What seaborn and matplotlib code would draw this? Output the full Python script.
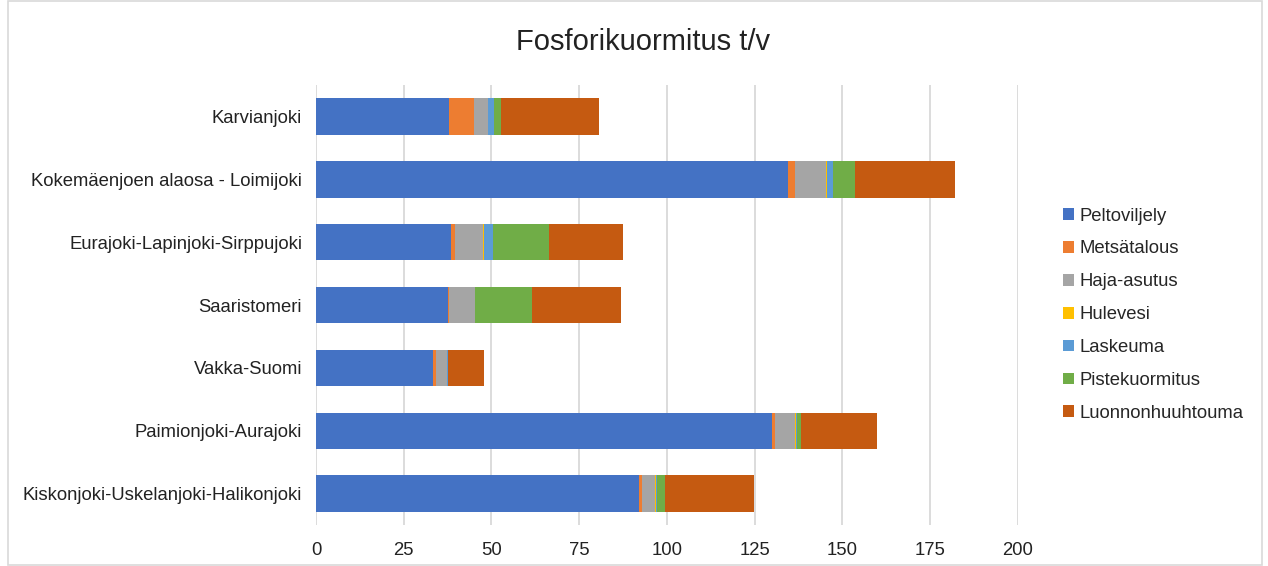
import seaborn as sns
import matplotlib.pyplot as plt
import pandas as pd
import numpy as np

areas = ['Karvianjoki', 'Kokemäenjoen alaosa - Loimijoki', 'Eurajoki-Lapinjoki-Sirppujoki',
         'Saaristomeri', 'Vakka-Suomi', 'Paimionjoki-Aurajoki',
         'Kiskonjoki-Uskelanjoki-Halikonjoki']
sources = ['Peltoviljely', 'Metsätalous', 'Haja-asutus', 'Hulevesi', 'Laskeuma',
           'Pistekuormitus', 'Luonnonhuuhtouma']

peltoviljely = [38.0, 134.4, 38.6, 37.7, 33.2, 130.0, 91.9]
metsatalous = [6.9, 2.1, 1.1, 0.2, 0.9, 0.8, 1.0]
haja_asutus = [4.1, 8.7, 8.0, 7.3, 3.2, 5.7, 3.8]
hulevesi = [0.1, 0.4, 0.2, 0.1, 0.1, 0.2, 0.2]
laskeuma = [1.6, 1.8, 2.4, 0.1, 0.1, 0.3, 0.4]
pistekuormitus = [2.0, 6.3, 16.0, 16.1, 0.1, 1.2, 2.0]
luonnonhuuhtouma = [28.0, 28.3, 21.3, 25.4, 10.4, 21.6, 25.6]

colors = ['#4472C4', '#ED7D31', '#A5A5A5', '#FFC000', '#5B9BD5', '#70AD47', '#C55A11']

df = pd.DataFrame({'Alue': areas, 'Peltoviljely': peltoviljely, 'Metsätalous': metsatalous,
                   'Haja-asutus': haja_asutus, 'Hulevesi': hulevesi, 'Laskeuma': laskeuma,
                   'Pistekuormitus': pistekuormitus, 'Luonnonhuuhtouma': luonnonhuuhtouma})
cum = df[sources].cumsum(axis=1)

sns.set_style('white')
plt.rcParams['font.family'] = ['Liberation Sans', 'DejaVu Sans']

fig = plt.figure(figsize=(12.68, 5.66), dpi=100)
ax = fig.add_axes([0.2492, 0.0724, 0.5536, 0.7774])

# stacked bars: draw cumulative totals from the last layer backwards
for src, col in reversed(list(zip(sources, colors))):
    sns.barplot(x=cum[src], y=df['Alue'], orient='h', color=col, width=0.58,
                saturation=1, ax=ax, label=src, zorder=3, linewidth=0)

ax.set_xlim(0, 200)
ax.set_ylim(6.5, -0.5)
ax.set_xticks(np.arange(0, 201, 25))
ax.grid(axis='x', color='#d9d9d9', linewidth=1.3, zorder=0)
ax.set_xlabel('')
ax.set_ylabel('')
for s in ax.spines.values():
    s.set_visible(False)
ax.tick_params(axis='both', length=0, labelsize=13.3, colors='#222222')
ax.tick_params(axis='y', pad=10)
ax.tick_params(axis='x', pad=12)

handles, labels = ax.get_legend_handles_labels()
order = [labels.index(s) for s in sources]
ax.legend([handles[i] for i in order], sources, loc='center left',
          bbox_to_anchor=(1.04, 0.478), frameon=False, fontsize=13.3,
          handlelength=0.6, handleheight=0.6, handletextpad=0.3, labelspacing=0.86)

fig.text(0.507, 0.925, 'Fosforikuormitus t/v', fontsize=21, ha='center', va='center',
         color='#222222')
fig.patches.append(plt.Rectangle((0.006, 0.002), 0.989, 0.996, transform=fig.transFigure,
                                 fill=False, edgecolor='#d9d9d9', linewidth=1.2))
fig.savefig('out.png', dpi=100)
